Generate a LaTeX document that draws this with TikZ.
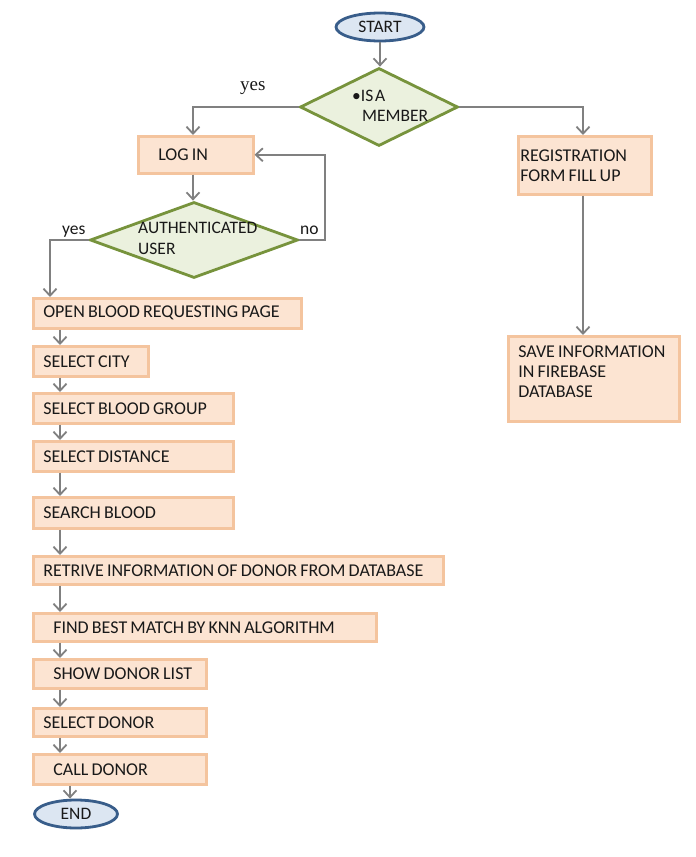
\documentclass[tikz,border=0pt]{standalone}
\usepackage{fontspec}
\setmainfont{Carlito}
\newfontfamily\serifyes{Liberation Serif}
\usetikzlibrary{shapes.geometric,arrows.meta}
\definecolor{boxfill}{HTML}{FCE4D2}
\definecolor{boxline}{HTML}{F4C49E}
\definecolor{dfill}{HTML}{EBF1DE}
\definecolor{dline}{HTML}{77933C}
\definecolor{efill}{HTML}{DCE6F2}
\definecolor{eline}{HTML}{385D8A}
\definecolor{arr}{HTML}{808080}
\newcommand\boxfont{\fontsize{17.5}{20}\selectfont\spaceskip 1.8pt\relax}
\newcommand\tightsp{\fontsize{18}{20}\selectfont\spaceskip 3.2pt\relax}
\begin{document}
\begin{tikzpicture}[x=1pt,y=-1pt,
 every node/.style={font=\boxfont, text=black!90},
 proc/.style={draw=boxline, fill=boxfill, line width=2.5pt, rectangle, anchor=north west, inner xsep=10pt, inner ysep=0pt, align=left, execute at begin node=\tightsp},
 dec/.style={diamond, draw=dline, fill=dfill, line width=2.8pt, inner sep=0pt},
 term/.style={ellipse, draw=eline, fill=efill, line width=2.8pt, inner sep=0pt},
 conn/.style={draw=arr, line width=1.8pt, -{Straight Barb[length=7pt,width=13pt]}},
 txt/.style={inner sep=0pt, anchor=base west}
]
\path[use as bounding box, fill=white] (0,0) rectangle (696,857);

% terminals and decisions
\node[term, minimum width=88pt, minimum height=28pt] (start) at (380,27) {START};
\node[dec, minimum width=158pt, minimum height=78pt] (member) at (379,107) {};
\node[txt] (memA) at (352,101) {•IS A};
\node[txt] (memB) at (362,121) {MEMBER};
\node[txt, font=\serifyes\fontsize{19}{20}\selectfont] (yesA) at (240,90) {yes};

\node[proc, text width=95pt, minimum height=37pt] (login) at (137,135) {\hspace*{10pt}LOG IN};
\node[dec, minimum width=208pt, minimum height=76pt] (auth) at (194,240) {};
\node[txt] (authA) at (138,233) {AUTHENTICATED};
\node[txt] (authB) at (138,254) {USER};
\node[txt] (yesB) at (62,234) {yes};
\node[txt] (noB) at (300,234) {no};

\node[proc, inner xsep=2pt, text width=129pt, minimum height=58pt] (reg) at (517,135) {REGISTRATION\\FORM FILL UP};
\node[proc, text width=151pt, minimum height=85pt] (save) at (507,335) {SAVE INFORMATION\\IN FIREBASE\\DATABASE\\[-6pt]\mbox{}};

% left column
\node[proc, text width=248pt, minimum height=30pt] (open) at (32,297) {OPEN BLOOD REQUESTING PAGE};
\node[proc, text width=95pt, minimum height=30pt] (city) at (32,345) {SELECT CITY};
\node[proc, text width=180pt, minimum height=30pt] (group) at (32,392) {SELECT BLOOD GROUP};
\node[proc, text width=180pt, minimum height=30pt] (dist) at (32,440) {SELECT DISTANCE};
\node[proc, text width=180pt, minimum height=31pt] (search) at (32,496) {SEARCH BLOOD};
\node[proc, text width=390pt, minimum height=28pt] (retrive) at (32,555) {\mbox{RETRIVE INFORMATION OF DONOR FROM DATABASE}};
\node[proc, text width=323pt, minimum height=28pt] (find) at (32,612) {\hspace*{10pt}FIND BEST MATCH BY KNN ALGORITHM};
\node[proc, text width=153pt, minimum height=29pt] (show) at (32,658) {\hspace*{10pt}SHOW DONOR LIST};
\node[proc, text width=153pt, minimum height=28pt] (seldonor) at (32,707) {SELECT DONOR};
\node[proc, text width=153pt, minimum height=30pt] (call) at (32,753) {\hspace*{10pt}CALL DONOR};
\node[term, minimum width=83pt, minimum height=28pt] (finish) at (76,814) {END};

\coordinate (colx) at (60,0);
\coordinate (endx) at (70,0);
\coordinate (nocorner) at (325,240);
\coordinate (yescorner) at (50,240);

% connectors
\draw[conn] (start.south) -- (start.south |- member.north);
\draw[conn] (member.west) -| (login.north -| 193,0);
\draw[conn] (member.east) -| (reg.north -| 583,0);
\draw[conn] (reg.south -| 583,0) -- (save.north -| 583,0);
\draw[conn] (login.south -| 193,0) -- (auth.north -| 193,0);
\draw[conn] (auth.east) -- (nocorner) |- (login.east);
\draw[conn] (auth.west) -- (yescorner) -- (yescorner |- open.north);

\draw[conn] (open.south -| colx) -- (city.north -| colx);
\draw[conn] (city.south -| colx) -- (group.north -| colx);
\draw[conn] (group.south -| colx) -- (dist.north -| colx);
\draw[conn] (dist.south -| colx) -- (search.north -| colx);
\draw[conn] (search.south -| colx) -- (retrive.north -| colx);
\draw[conn] (retrive.south -| colx) -- (find.north -| colx);
\draw[conn] (find.south -| colx) -- (show.north -| colx);
\draw[conn] (show.south -| colx) -- (seldonor.north -| colx);
\draw[conn] (seldonor.south -| colx) -- (call.north -| colx);
\draw[conn] (call.south -| endx) -- (finish.north -| endx);
\end{tikzpicture}
\end{document}
